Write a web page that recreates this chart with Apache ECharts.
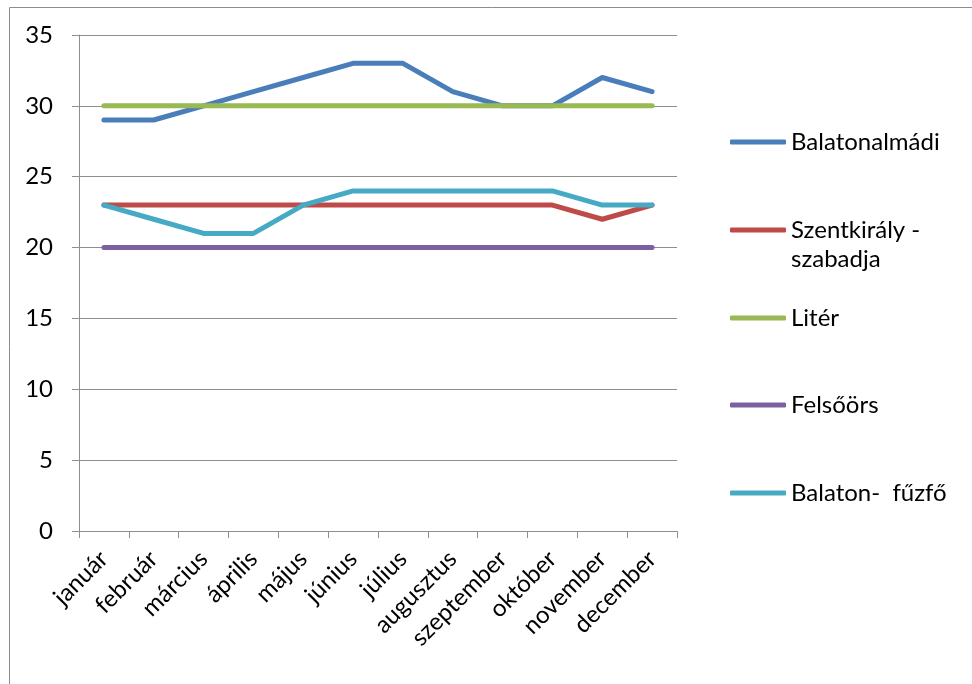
<!DOCTYPE html>
<html><head><meta charset="utf-8">
<script src="https://cdn.jsdelivr.net/npm/echarts@6/dist/echarts.min.js"></script>
<style>html,body{margin:0;padding:0;background:#fff}#c{width:972px;height:684px}</style>
</head><body><div id="c"></div>
<script>
const categories = ['január','február','március','április','május','június','július','augusztus','szeptember','október','november','december'];
const seriesNames = ['Balatonalmádi','Szentkirály - szabadja','Litér','Felsőörs','Balaton-  fűzfő'];
const legendLabels = ['Balatonalmádi','Szentkirály -','Litér','Felsőörs','Balaton-  fűzfő'];
const balatonalmadi = [29,29,30,31,32,33,33,31,30,30,32,31];
const szentkiraly = [23,23,23,23,23,23,23,23,23,23,22,23];
const liter = [30,30,30,30,30,30,30,30,30,30,30,30];
const felsoors = [20,20,20,20,20,20,20,20,20,20,20,20];
const balatonfuzfo = [23,22,21,21,23,24,24,24,24,24,23,23];
const yTicks = [0,5,10,15,20,25,30,35];

const colors = ['#4A7EBB','#BE4B48','#98B954','#7D60A0','#46AAC5'];
const dataSets = [balatonalmadi, szentkiraly, liter, felsoors, balatonfuzfo];
const font = 'Lato';
const legendTops = [127, 215, 303, 390, 478];

const chart = echarts.init(document.getElementById('c'));
chart.setOption({
  animation: false,
  color: colors,
  graphic: [
    {type:'rect', shape:{x:9.5,y:7.5,width:1200,height:1200}, style:{fill:'none',stroke:'#8c8c8c',lineWidth:1}, silent:true},
    {type:'text', left:791, top:247, style:{text:'szabadja', fontFamily:font, fontSize:24, fill:'#000'}, silent:true}
  ],
  grid: {left:79, right:295, top:35, bottom:153},
  legend: seriesNames.map((n,i)=>({
    data:[n], orient:'vertical', left:730, top:legendTops[i], padding:0,
    icon:'roundRect', itemWidth:56, itemHeight:5, itemGap:0,
    formatter: () => legendLabels[i],
    textStyle:{fontFamily:font, fontSize:24, color:'#000', lineHeight:30},
    selectedMode:false
  })),
  xAxis: {
    type:'category', data:categories, boundaryGap:true,
    axisLine:{lineStyle:{color:'#8e8e8e',width:1}},
    axisTick:{show:true, length:7, lineStyle:{color:'#8e8e8e'}},
    axisLabel:{rotate:45, fontFamily:font, fontSize:24, color:'#000', margin:24, interval:0}
  },
  yAxis: {
    type:'value', min:0, max:35, interval:5,
    axisLine:{show:true, lineStyle:{color:'#8e8e8e',width:1}},
    axisTick:{show:true, length:7, lineStyle:{color:'#8e8e8e'}},
    splitLine:{lineStyle:{color:'#8e8e8e',width:1}},
    axisLabel:{fontFamily:font, fontSize:24, color:'#000', margin:26}
  },
  series: seriesNames.map((n,i)=>({
    name:n, type:'line', data:dataSets[i], symbol:'none',
    lineStyle:{width:5, color:colors[i], cap:'round', join:'round'},
    itemStyle:{color:colors[i]}
  }))
});
</script></body></html>
